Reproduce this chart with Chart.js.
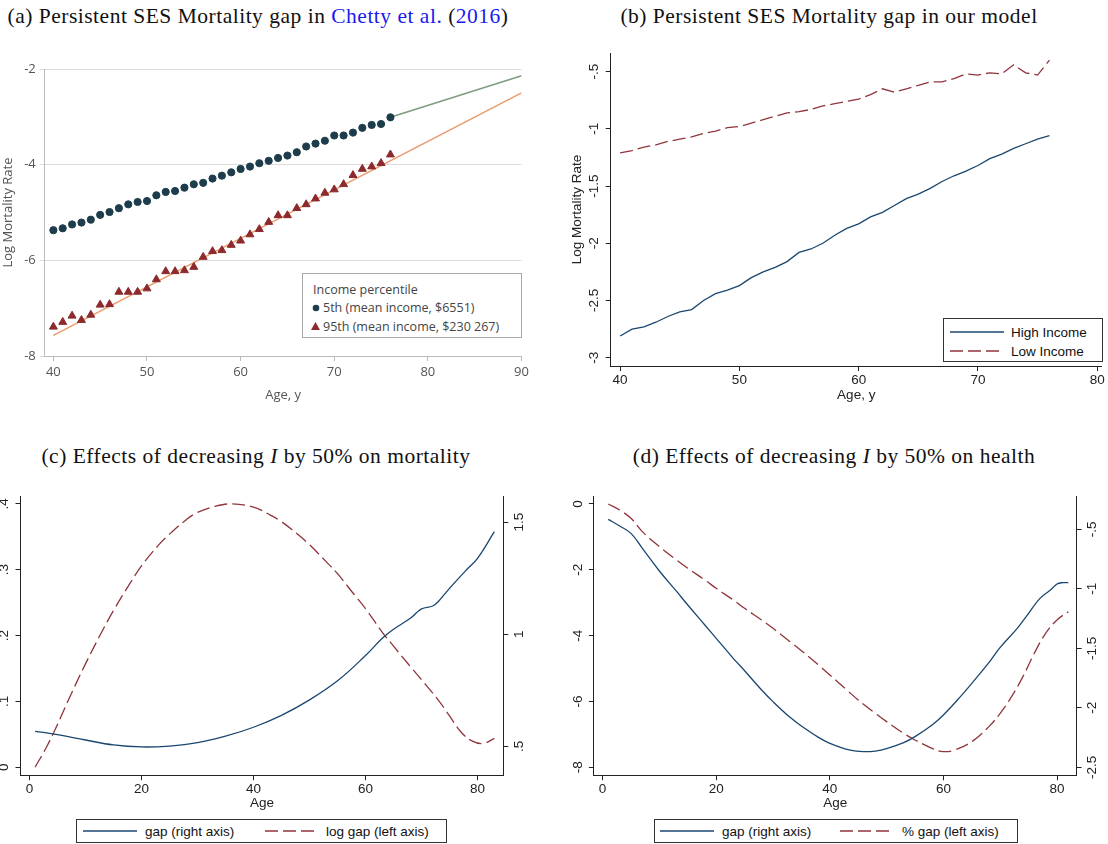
<!DOCTYPE html>
<html>
<head>
<meta charset="utf-8">
<title>SES Mortality gap</title>
<script src="https://cdn.jsdelivr.net/npm/chart.js"></script>
<style>
  body { margin: 0; background: #fff; width: 1108px; height: 844px; position: relative; overflow: hidden; }
  canvas, .ttl, .lg { position: absolute; }
  .ttl { font-family: "Liberation Serif", serif; font-size: 21.5px; color: #111; white-space: nowrap;
         transform: translate(-50%, -50%); letter-spacing: 0.5px; }
  .ttl .ref { color: #1a1aee; }
  .lg { font-family: "Liberation Sans", Arial, sans-serif; font-size: 13.5px; color: #111; background: #fff;
        border: 1px solid #333; box-sizing: border-box; }
  .lg .it { position: absolute; white-space: nowrap; transform: translateY(-50%); }
  .lg svg { position: absolute; overflow: visible; }
  .lga { font-family: "Open Sans", sans-serif; font-size: 12.5px; color: #444; border: 1.5px solid #aaa; }
</style>
</head>
<body>
    <div class="ttl" style="left:258px;top:16px">(a) Persistent SES Mortality gap in <span class="ref">Chetty et al.</span> (<span class="ref">2016</span>)</div>
    <div class="ttl" style="left:829px;top:16px">(b) Persistent SES Mortality gap in our model</div>
    <div class="ttl" style="left:256px;top:456px">(c) Effects of decreasing <i>I</i> by 50% on mortality</div>
    <div class="ttl" style="left:834px;top:456px">(d) Effects of decreasing <i>I</i> by 50% on health</div>

    <canvas id="chartA" width="545" height="380" style="left:0;top:40px"></canvas>
    <canvas id="chartB" width="548" height="380" style="left:560px;top:40px"></canvas>
    <canvas id="chartC" width="545" height="340" style="left:0;top:475px"></canvas>
    <canvas id="chartD" width="548" height="340" style="left:560px;top:475px"></canvas>

    <!-- legend (a) -->
    <div class="lg lga" style="left:302px;top:273px;width:220px;height:65px">
        <span class="it" style="left:10px;top:15px">Income percentile</span>
        <svg style="left:9px;top:30px" width="8" height="8"><circle cx="4" cy="4" r="3.3" fill="#1e3d4c"/></svg>
        <span class="it" style="left:20px;top:33px">5th (mean income, $6551)</span>
        <svg style="left:8px;top:48px" width="9" height="8"><polygon points="4.5,0 9,8 0,8" fill="#8c2a2e"/></svg>
        <span class="it" style="left:20px;top:52px">95th (mean income, $230 267)</span>
    </div>

    <!-- legend (b) -->
    <div class="lg" style="left:943px;top:318px;width:160px;height:44px">
        <svg style="left:6px;top:12px" width="54" height="2"><line x1="0" y1="1" x2="54" y2="1" stroke="#1a476f" stroke-width="1.3"/></svg>
        <span class="it" style="left:67px;top:13px">High Income</span>
        <svg style="left:6px;top:31px" width="54" height="2"><line x1="0" y1="1" x2="54" y2="1" stroke="#90353b" stroke-width="1.3" stroke-dasharray="13 5"/></svg>
        <span class="it" style="left:67px;top:32px">Low Income</span>
    </div>

    <!-- legend (c) -->
    <div class="lg" style="left:76px;top:819px;width:371px;height:24px">
        <svg style="left:6px;top:10px" width="54" height="2"><line x1="0" y1="1" x2="54" y2="1" stroke="#1a476f" stroke-width="1.3"/></svg>
        <span class="it" style="left:68px;top:11px">gap (right axis)</span>
        <svg style="left:188px;top:10px" width="52" height="2"><line x1="0" y1="1" x2="52" y2="1" stroke="#90353b" stroke-width="1.3" stroke-dasharray="13 5"/></svg>
        <span class="it" style="left:249px;top:11px">log gap (left axis)</span>
    </div>

    <!-- legend (d) -->
    <div class="lg" style="left:654px;top:819px;width:364px;height:24px">
        <svg style="left:5px;top:10px" width="54" height="2"><line x1="0" y1="1" x2="54" y2="1" stroke="#1a476f" stroke-width="1.3"/></svg>
        <span class="it" style="left:67px;top:11px">gap (right axis)</span>
        <svg style="left:185px;top:10px" width="54" height="2"><line x1="0" y1="1" x2="54" y2="1" stroke="#90353b" stroke-width="1.3" stroke-dasharray="13 5"/></svg>
        <span class="it" style="left:247px;top:11px">% gap (left axis)</span>
    </div>

    <script>
    // (a) Chetty et al. (2016): log mortality by age, 5th and 95th income percentile
    const agesA = [40, 41, 42, 43, 44, 45, 46, 47, 48, 49, 50, 51, 52, 53, 54, 55, 56, 57, 58,
                   59, 60, 61, 62, 63, 64, 65, 66, 67, 68, 69, 70, 71, 72, 73, 74, 75, 76];
    const p5A = [-5.37, -5.33, -5.25, -5.21, -5.15, -5.05, -4.99, -4.91, -4.83, -4.78, -4.76, -4.64,
                 -4.57, -4.55, -4.48, -4.41, -4.38, -4.29, -4.23, -4.16, -4.09, -4.04, -3.97, -3.92,
                 -3.86, -3.81, -3.74, -3.62, -3.56, -3.50, -3.39, -3.39, -3.33, -3.23, -3.17, -3.15, -3.01];
    const p95A = [-7.39, -7.29, -7.16, -7.25, -7.14, -6.93, -6.92, -6.66, -6.66, -6.66, -6.59, -6.40,
                  -6.23, -6.23, -6.21, -6.14, -5.93, -5.81, -5.79, -5.68, -5.59, -5.46, -5.35, -5.20,
                  -5.06, -5.06, -4.91, -4.83, -4.71, -4.59, -4.52, -4.41, -4.22, -4.09, -4.04, -3.97, -3.79];
    const fit5X = [76, 90];
    const fit5Y = [-3.01, -2.14];
    const fit95X = [40, 90];
    const fit95Y = [-7.57, -2.50];
    const ticksAX = [40, 50, 60, 70, 80, 90];
    const ticksAY = [-8, -6, -4, -2];

    // (b) model: log mortality rate, high vs low income
    const agesB = [40, 41, 42, 43, 44, 45, 46, 47, 48, 49, 50, 51, 52, 53, 54, 55, 56, 57, 58,
                   59, 60, 61, 62, 63, 64, 65, 66, 67, 68, 69, 70, 71, 72, 73, 74, 75, 76];
    const highB = [-2.81, -2.75, -2.73, -2.69, -2.64, -2.60, -2.58, -2.50, -2.44, -2.41, -2.37, -2.30,
                   -2.25, -2.21, -2.16, -2.08, -2.05, -2.00, -1.93, -1.87, -1.83, -1.77, -1.73, -1.67,
                   -1.61, -1.57, -1.52, -1.46, -1.41, -1.37, -1.32, -1.26, -1.22, -1.17, -1.13, -1.09, -1.06];
    const lowB = [-1.21, -1.19, -1.16, -1.14, -1.11, -1.09, -1.07, -1.04, -1.02, -0.99, -0.98, -0.95,
                  -0.92, -0.89, -0.86, -0.85, -0.83, -0.80, -0.78, -0.76, -0.74, -0.70, -0.65, -0.68,
                  -0.65, -0.62, -0.59, -0.59, -0.56, -0.52, -0.53, -0.51, -0.52, -0.44, -0.51, -0.53, -0.40];
    const ticksBX = [40, 50, 60, 70, 80];
    const ticksBY = [-3, -2.5, -2, -1.5, -1, -0.5];

    // (c) decreasing I by 50%: mortality
    const agesCGap = [1, 5, 10, 15, 20, 25, 30, 35, 40, 45, 50, 55, 60, 63, 65, 68, 70, 72, 73, 75, 78, 80, 83];
    const gapC = [0.567, 0.552, 0.528, 0.506, 0.497, 0.501, 0.516, 0.545, 0.585, 0.638, 0.707, 0.792,
                  0.905, 0.982, 1.022, 1.071, 1.113, 1.126, 1.146, 1.205, 1.287, 1.339, 1.458];
    const agesCLog = [1, 3, 5, 7, 10, 13, 15, 18, 20, 23, 25, 28, 30, 33, 36, 40, 43, 45, 48, 50,
                      53, 55, 58, 60, 63, 65, 68, 70, 73, 75, 77, 79, 81, 83];
    const logGapC = [0, 0.030, 0.065, 0.103, 0.157, 0.207, 0.238, 0.280, 0.306, 0.337, 0.354, 0.376,
                     0.387, 0.396, 0.400, 0.395, 0.383, 0.373, 0.353, 0.338, 0.312, 0.294, 0.262, 0.241,
                     0.205, 0.184, 0.153, 0.133, 0.102, 0.078, 0.054, 0.040, 0.036, 0.044];
    const ticksCX = [0, 20, 40, 60, 80];
    const ticksCL = [0, 0.1, 0.2, 0.3, 0.4];
    const ticksCR = [0.5, 1, 1.5];

    // (d) decreasing I by 50%: health
    const agesDGap = [1, 3, 5, 7, 10, 13, 15, 18, 20, 23, 25, 28, 30, 33, 35, 38, 40, 43, 46, 48,
                      50, 53, 55, 58, 60, 63, 65, 68, 70, 73, 75, 77, 79, 80, 81, 82];
    const gapD = [-0.416, -0.472, -0.534, -0.660, -0.850, -1.020, -1.136, -1.304, -1.416, -1.584,
                  -1.688, -1.850, -1.948, -2.080, -2.153, -2.248, -2.298, -2.349, -2.368, -2.363,
                  -2.343, -2.293, -2.242, -2.144, -2.060, -1.906, -1.794, -1.620, -1.492, -1.332,
                  -1.206, -1.080, -1.004, -0.959, -0.948, -0.948];
    const agesDPct = [1, 3, 5, 7, 10, 13, 15, 18, 20, 23, 25, 28, 30, 33, 35, 38, 40, 43, 45, 48,
                      50, 53, 55, 58, 60, 62, 65, 68, 70, 72, 74, 76, 78, 80, 82];
    const pctGapD = [0, -0.182, -0.435, -0.840, -1.296, -1.701, -1.954, -2.309, -2.562, -2.916,
                     -3.170, -3.524, -3.777, -4.182, -4.456, -4.891, -5.195, -5.651, -5.954, -6.359,
                     -6.613, -6.967, -7.170, -7.423, -7.524, -7.473, -7.220, -6.765, -6.359, -5.853,
                     -5.246, -4.537, -3.929, -3.524, -3.271];
    const ticksDX = [0, 20, 40, 60, 80];
    const ticksDL = [-8, -6, -4, -2, 0];
    const ticksDR = [-2.5, -2, -1.5, -1, -0.5];

    const INK = '#222';
    const NAVY = '#1a476f';
    const MAROON = '#90353b';
    const STATA_FONT = {family: '"Liberation Sans", Arial, sans-serif', size: 13.5};
    const JAMA_FONT = {family: '"Open Sans", sans-serif', size: 13};
    const JAMA_INK = '#555';

    // stata style labels: .5 instead of 0.5
    function fmt(v) {
        const s = String(Math.round(v * 100) / 100);
        return s.replace(/^(-?)0\./, '$1.');
    }
    function pts(xs, ys) { return xs.map((x, i) => ({x: x, y: ys[i]})); }
    function setTicks(vals) { return s => { s.ticks = vals.map(v => ({value: v})); }; }
    function setSize(size) {
        return s => {
            if (s.isHorizontal()) s.height = size; else s.width = size;
            s.paddingLeft = s.paddingRight = s.paddingTop = s.paddingBottom = 0;
        };
    }

    // vertical (rotated) y tick labels, stata style
    const rotLabels = {
        id: 'rotLabels',
        afterDraw(chart, args, opts) {
            if (!opts.axes) return;
            const ctx = chart.ctx;
            ctx.save();
            ctx.font = STATA_FONT.size + 'px ' + STATA_FONT.family;
            ctx.fillStyle = INK;
            ctx.textAlign = 'center';
            ctx.textBaseline = 'middle';
            opts.axes.forEach(id => {
                const s = chart.scales[id];
                const x = s.position === 'left' ? s.right - opts.offset : s.left + opts.offset;
                s.ticks.forEach(t => {
                    ctx.save();
                    ctx.translate(x, s.getPixelForValue(t.value));
                    ctx.rotate(-Math.PI / 2);
                    ctx.fillText(fmt(t.value), 0, 0);
                    ctx.restore();
                });
            });
            ctx.restore();
        }
    };
    Chart.register(rotLabels);

    function stataAxis(pos, min, max, vals, size, extra) {
        return Object.assign({
            type: 'linear', position: pos, min: min, max: max,
            afterBuildTicks: setTicks(vals), afterFit: setSize(size),
            grid: {drawOnChartArea: false, tickLength: 5, color: INK},
            border: {color: INK},
            ticks: {display: pos === 'bottom', color: INK, font: STATA_FONT, padding: 1,
                    maxRotation: 0, autoSkip: false, callback: v => fmt(v)}
        }, extra || {});
    }

    function baseOptions(padding, scales, rot) {
        return {
            responsive: false,
            animation: false,
            devicePixelRatio: 1,
            layout: {padding: padding},
            plugins: {legend: {display: false}, tooltip: {enabled: false}, rotLabels: rot || {}},
            scales: scales,
            elements: {point: {radius: 0}, line: {borderWidth: 1.3}}
        };
    }

    // (a)
    new Chart(document.getElementById('chartA'), {
        type: 'line',
        data: {datasets: [
            {data: pts(agesA, p5A), showLine: false, pointStyle: 'circle', pointRadius: 3.6,
             pointBackgroundColor: '#1e3d4c', pointBorderColor: '#1e3d4c'},
            {data: pts(agesA, p95A), showLine: false, pointStyle: 'triangle', pointRadius: 4.6,
             pointBackgroundColor: '#8c2a2e', pointBorderColor: '#8c2a2e'},
            {data: pts(fit5X, fit5Y), borderColor: '#7d9c80', borderWidth: 1.5},
            {data: pts(fit95X, fit95Y), borderColor: '#eb9a6c', borderWidth: 1.5}
        ]},
        options: baseOptions({top: 29, right: 23.5, left: 0, bottom: 0}, {
            x: {
                type: 'linear', min: 39.08, max: 90,
                afterBuildTicks: setTicks(ticksAX), afterFit: setSize(64),
                grid: {drawOnChartArea: false, tickLength: 5, color: '#bbb'},
                border: {color: '#bbb'},
                ticks: {color: JAMA_INK, font: JAMA_FONT, padding: 3, maxRotation: 0, autoSkip: false},
                title: {display: true, text: 'Age, y', color: JAMA_INK, font: JAMA_FONT, padding: {top: 0, bottom: 17}}
            },
            y: {
                type: 'linear', min: -8, max: -2,
                afterBuildTicks: setTicks(ticksAY), afterFit: setSize(44.75),
                grid: {drawOnChartArea: true, tickLength: 5, color: '#dcdcdc'},
                border: {color: '#bbb'},
                ticks: {color: JAMA_INK, font: JAMA_FONT, padding: 4},
                title: {display: true, text: 'Log Mortality Rate', color: JAMA_INK, font: JAMA_FONT, padding: {top: 0, bottom: 0}}
            }
        })
    });

    // (b)
    new Chart(document.getElementById('chartB'), {
        type: 'line',
        data: {datasets: [
            {label: 'High Income', data: pts(agesB, highB), borderColor: NAVY},
            {label: 'Low Income', data: pts(agesB, lowB), borderColor: MAROON, borderDash: [13, 5]}
        ]},
        options: baseOptions({top: 13, right: 6.2, left: 0, bottom: 0}, {
            x: stataAxis('bottom', 39.21, 80.39, ticksBX, 54, {
                title: {display: true, text: 'Age, y', color: INK, font: STATA_FONT, padding: {top: 0, bottom: 17}}
            }),
            y: stataAxis('left', -3.0726, -0.337, ticksBY, 50.7, {
                title: {display: true, text: 'Log Mortality Rate', color: INK, font: STATA_FONT, padding: {top: 9.5, bottom: 0}}
            })
        }, {axes: ['y'], offset: 16})
    });

    // (c)
    new Chart(document.getElementById('chartC'), {
        type: 'line',
        data: {datasets: [
            {label: 'gap (right axis)', data: pts(agesCGap, gapC), borderColor: NAVY, yAxisID: 'yR',
             tension: 0.4},
            {label: 'log gap (left axis)', data: pts(agesCLog, logGapC), borderColor: MAROON, yAxisID: 'yL',
             borderDash: [13, 5], tension: 0.4}
        ]},
        options: baseOptions({top: 21, right: 0, left: 0, bottom: 0}, {
            x: stataAxis('bottom', -1.6, 84.6, ticksCX, 39.7, {
                title: {display: true, text: 'Age', color: INK, font: STATA_FONT, padding: {top: 0, bottom: 4}}
            }),
            yL: stataAxis('left', -0.0122, 0.412, ticksCL, 20.5),
            yR: stataAxis('right', 0.3705, 1.617, ticksCR, 41.7)
        }, {axes: ['yL', 'yR'], offset: 16})
    });

    // (d)
    new Chart(document.getElementById('chartD'), {
        type: 'line',
        data: {datasets: [
            {label: 'gap (right axis)', data: pts(agesDGap, gapD), borderColor: NAVY, yAxisID: 'yR',
             tension: 0.4},
            {label: '% gap (left axis)', data: pts(agesDPct, pctGapD), borderColor: MAROON, yAxisID: 'yL',
             borderDash: [13, 5], tension: 0.4}
        ]},
        options: baseOptions({top: 21, right: 0, left: 0, bottom: 0}, {
            x: stataAxis('bottom', -1.53, 83.45, ticksDX, 39.7, {
                title: {display: true, text: 'Age', color: INK, font: STATA_FONT, padding: {top: 0, bottom: 4}}
            }),
            yL: stataAxis('left', -8.243, 0.243, ticksDL, 33.9),
            yR: stataAxis('right', -2.567, -0.22, ticksDR, 31.4)
        }, {axes: ['yL', 'yR'], offset: 16})
    });
    </script>
</body>
</html>
